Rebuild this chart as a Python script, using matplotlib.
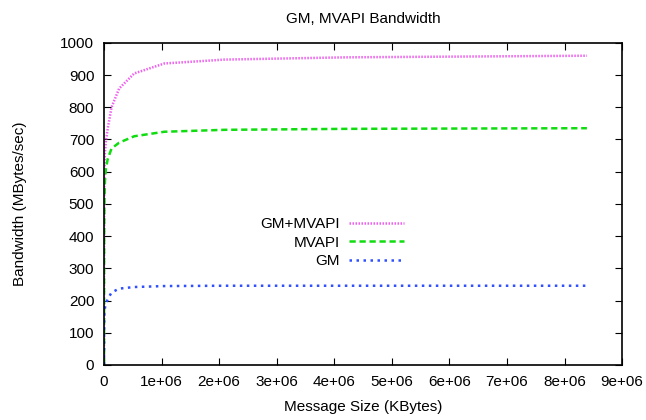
import numpy as np
import matplotlib
matplotlib.use("Agg")
import matplotlib.pyplot as plt

plt.rcParams['font.family'] = ['Liberation Sans', 'DejaVu Sans']

# message sizes (powers of two)
sizes = [2 ** k for k in range(24)]

gm_mvapi = [2, 4, 8, 16, 30, 55, 95, 150, 220, 300, 380, 460, 540, 610, 660,
            695, 735, 800, 858, 905, 936, 948, 955, 960]
mvapi = [2, 4, 8, 15, 28, 50, 85, 135, 195, 265, 335, 400, 460, 520, 570,
         610, 640, 672, 690, 710, 724, 730, 733, 735]
gm = [1, 2, 4, 7, 12, 20, 32, 48, 68, 90, 112, 132, 150, 165, 178,
      190, 205, 225, 237, 242, 245, 246, 246, 246]

xticks = [i * 1000000 for i in range(10)]
xticklabels = ['0'] + ['%de+06' % i for i in range(1, 10)]
yticks = list(range(0, 1001, 100))

fig = plt.figure(figsize=(6.46, 4.20), dpi=100)
ax = fig.add_axes([0.161, 0.131, 0.802, 0.767])

ax.plot(sizes, gm_mvapi, color='#f060f0', lw=1.8, linestyle=(0, (0.6, 0.6)), label='GM+MVAPI')
ax.plot(sizes, mvapi, color='#10dd10', lw=1.8, linestyle=(0, (2.5, 1.5)), label='MVAPI')
ax.plot(sizes, gm, color='#3050ff', lw=1.8, linestyle=(0, (1, 1.8)), label='GM')

ax.set_xlim(0, 9000000)
ax.set_ylim(0, 1000)
ax.set_xticks(xticks)
ax.set_xticklabels(xticklabels)
ax.set_yticks(yticks)
ax.tick_params(direction='in', top=True, right=True, length=5, labelsize=11, pad=7)
for s in ax.spines.values():
    s.set_linewidth(1.2)

ax.set_title('GM, MVAPI Bandwidth', fontsize=11, pad=14)
ax.set_xlabel('Message Size (KBytes)', fontsize=11, labelpad=8)
ax.set_ylabel('Bandwidth (MBytes/sec)', fontsize=11, labelpad=24)

ax.legend(loc='center', bbox_to_anchor=(0.44, 0.38), frameon=False, markerfirst=False,
          fontsize=11, handlelength=3.6, labelspacing=0.3, handletextpad=0.6)

fig.savefig('out.png', dpi=100)
